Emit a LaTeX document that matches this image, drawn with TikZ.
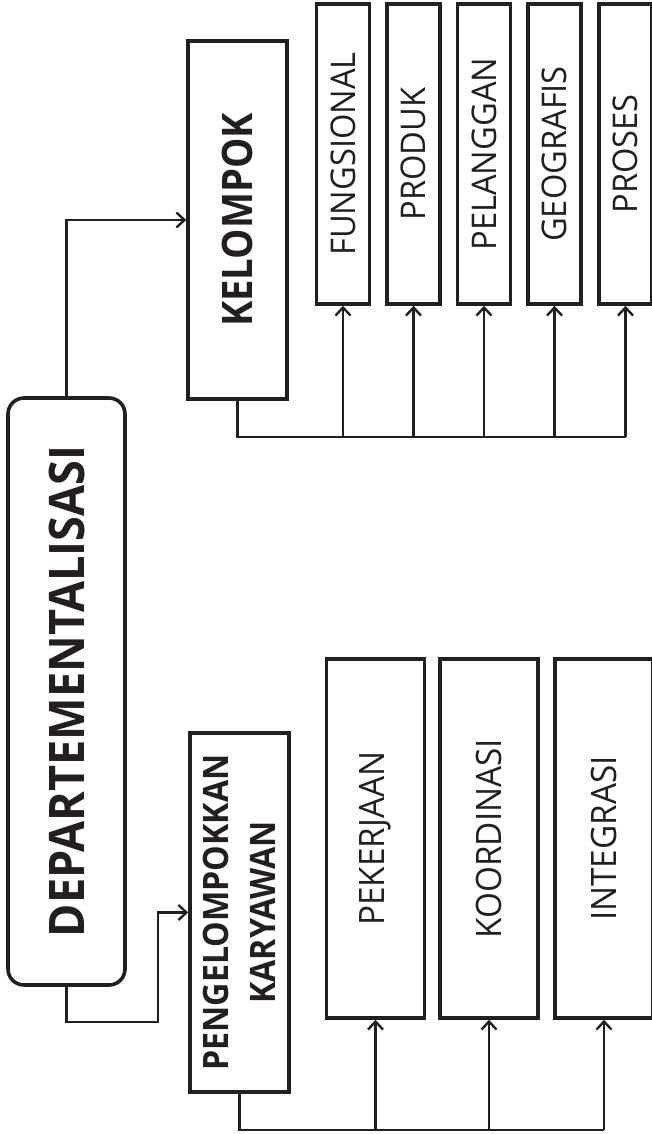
\documentclass[tikz,border=0pt]{standalone}
\usepackage{fontspec}
\usepackage{graphicx}
\setmainfont{Open Sans}
\usetikzlibrary{arrows.meta}
\definecolor{ink}{RGB}{35,31,32}
% narrower setting of a label
\newcommand{\squeeze}[2]{\scalebox{#1}[1]{#2}}
\begin{document}
\begin{tikzpicture}[x=1pt,y=-1pt,
  box/.style={draw=ink, line width=3.6pt, rotate=90, inner sep=0pt, text=ink, align=center},
  link/.style={draw=ink, line width=2.4pt},
  arr/.style={link, -{Straight Barb[length=8pt,width=15pt,line width=2.4pt]}},
]
\useasboundingbox (0,0) rectangle (651,1134);

% main block
\node[box, rounded corners=16pt, minimum width=587pt, minimum height=117pt,
      font=\bfseries\fontsize{49}{56}\selectfont] (dept) at (66.5,691.5)
      {\squeeze{0.92}{DEPARTEMENTALISASI}};

% upper branch
\node[box, minimum width=358pt, minimum height=99pt,
      font=\bfseries\fontsize{42}{50}\selectfont] (kel) at (237.5,220)
      {\squeeze{0.91}{KELOMPOK}};

\foreach \n/\x/\t in {fung/343/FUNGSIONAL, prod/413.5/PRODUK, pel/484/PELANGGAN,
                      geo/554.5/GEOGRAFIS, pros/625.5/PROSES}{
  \node[box, minimum width=300pt, minimum height=53pt,
        font=\fontsize{34}{40}\selectfont] (\n) at (\x,154) {\squeeze{0.96}{\t}};
}

% lower branch
\node[box, minimum width=359pt, minimum height=99pt,
      font=\bfseries\fontsize{35}{47}\selectfont] (peng) at (239.5,912.5)
      {\squeeze{0.92}{PENGELOMPOKKAN}\\\squeeze{0.92}{KARYAWAN}};

\foreach \n/\x/\t in {pek/375.5/PEKERJAAN, koo/489/KOORDINASI, integ/604/INTEGRASI}{
  \node[box, minimum width=359pt, minimum height=98pt,
        font=\fontsize{35}{42}\selectfont] (\n) at (\x,838.5) {\squeeze{0.95}{\t}};
}

% connectors
\coordinate (bendA) at (158,1022);
\coordinate (kbus) at (625.5,437);
\coordinate (pbus) at (604,1130);

\draw[arr] (dept.east) |- (kel.north);
\draw[arr] (dept.west) |- (bendA) |- (peng.north);

\draw[link] (kel.west) |- (kbus);
\foreach \n in {fung,prod,pel,geo,pros}{
  \draw[arr] (\n.west |- kbus) -- (\n.west);
}

\draw[link] (peng.west) |- (pbus);
\foreach \n in {pek,koo,integ}{
  \draw[arr] (\n.west |- pbus) -- (\n.west);
}
\end{tikzpicture}
\end{document}
